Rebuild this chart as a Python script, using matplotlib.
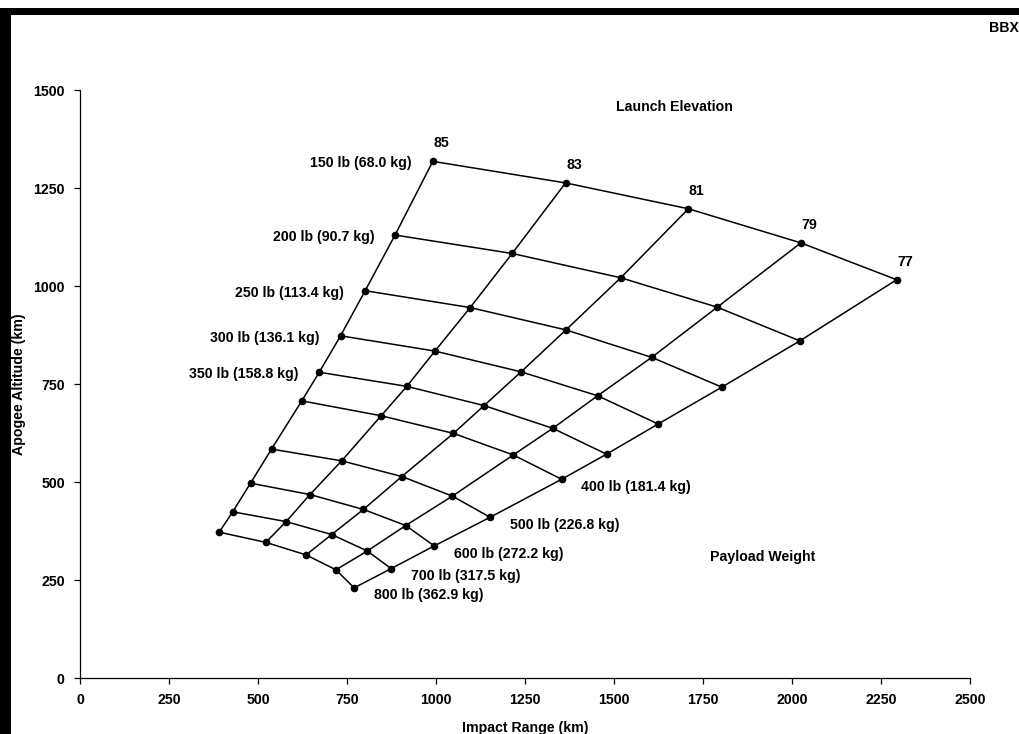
#!/usr/bin/env python
# -*- coding: utf-8 -*-

import numpy as np
import matplotlib
matplotlib.use('Agg')
import matplotlib.pyplot as plt
from matplotlib.patches import Rectangle

plt.rcParams['font.family'] = ['Liberation Sans', 'DejaVu Sans']
plt.rcParams['font.weight'] = 'bold'

# Elevaciones de lanzamiento (columnas de la grilla)
elevaciones = ['85', '83', '81', '79', '77']

# Pesos de carga (filas de la grilla)
pesos = ['150 lb (68.0 kg)', '200 lb (90.7 kg)', '250 lb (113.4 kg)',
         '300 lb (136.1 kg)', '350 lb (158.8 kg)', '400 lb (181.4 kg)',
         '500 lb (226.8 kg)', '600 lb (272.2 kg)', '700 lb (317.5 kg)',
         '800 lb (362.9 kg)']

# Alcance de impacto (km), una fila por peso, una columna por elevacion
alcance = [
  [991, 1364, 1709, 2025, 2294],
  [885, 1214, 1519, 1790, 2022],
  [801, 1096, 1365, 1606, 1803],
  [732, 997, 1239, 1454, 1624],
  [672, 918, 1135, 1328, 1479],
  [623, 846, 1049, 1217, 1353],
  [538, 735, 904, 1046, 1152],
  [479, 646, 796, 915, 995],
  [429, 579, 707, 807, 874],
  [391, 522, 635, 719, 770],
]

# Altitud de apogeo (km)
apogeo = [
  [1318, 1263, 1197, 1110, 1016],
  [1130, 1083, 1021, 946, 860],
  [988, 945, 888, 818, 742],
  [873, 834, 781, 720, 648],
  [780, 744, 695, 637, 571],
  [707, 669, 624, 569, 507],
  [584, 554, 514, 464, 410],
  [497, 468, 430, 389, 337],
  [424, 399, 366, 324, 279],
  [372, 346, 314, 276, 230],
]

x = np.array(alcance)
y = np.array(apogeo)

fs = 10.2

fig = plt.figure(figsize=(10.19, 7.34), dpi=100)
ax = fig.add_axes([80/1019., 56/734., 890/1019., 588/734.])

# Curvas de peso de carga
for i in range(len(pesos)):
  ax.plot(x[i], y[i], color='k', linewidth=1.1)

# Curvas de elevacion
for j in range(len(elevaciones)):
  ax.plot(x[:, j], y[:, j], color='k', linewidth=1.1)

ax.plot(x.flatten(), y.flatten(), 'o', color='k', markersize=4.5, linestyle='none')

# Etiquetas de elevacion arriba de la primera fila
for j in range(len(elevaciones)):
  ax.annotate(elevaciones[j], (x[0, j], y[0, j]), xytext=(6, 13),
              textcoords='offset points', ha='center', va='center',
              fontsize=fs, fontweight='bold')

# Etiquetas de peso: las primeras a la izquierda, las ultimas a la derecha
for i in range(len(pesos)):
  if i < 5:
    ax.annotate(pesos[i], (x[i, 0], y[i, 0]), xytext=(-15, -1.5),
                textcoords='offset points', ha='right', va='center',
                fontsize=fs, fontweight='bold')
  else:
    ax.annotate(pesos[i], (x[i, 4], y[i, 4]), xytext=(14, -5.5),
                textcoords='offset points', ha='left', va='center',
                fontsize=fs, fontweight='bold')

ax.text(1671, 1457, 'Launch Elevation', ha='center', va='center',
        fontsize=fs, fontweight='bold')
ax.text(1917, 309, 'Payload Weight', ha='center', va='center',
        fontsize=fs, fontweight='bold')

ax.set_xlim(0, 2500)
ax.set_ylim(0, 1500)
ax.set_xticks(range(0, 2501, 250))
ax.set_yticks(range(0, 1501, 250))
ax.spines['top'].set_visible(False)
ax.spines['right'].set_visible(False)
ax.spines['left'].set_linewidth(0.9)
ax.spines['bottom'].set_linewidth(0.9)
ax.tick_params(direction='out', length=4, width=0.9, labelsize=fs, pad=7)
for lab in ax.get_xticklabels() + ax.get_yticklabels():
  lab.set_fontweight('bold')

ax.set_xlabel('Impact Range (km)', fontsize=fs, fontweight='bold', labelpad=10)
ax.set_ylabel('Apogee Altitude (km)', fontsize=fs, fontweight='bold', labelpad=5)

# Bordes negros del escaneo y texto recortado arriba a la derecha
fig.patches.append(Rectangle((0, 0), 11/1019., 726/734., transform=fig.transFigure,
                             facecolor='k', edgecolor='none'))
fig.patches.append(Rectangle((0, 719/734.), 1.0, 7/734., transform=fig.transFigure,
                             facecolor='k', edgecolor='none'))
fig.text(989/1019., 1 - 28/734., 'BBX', ha='left', va='center',
         fontsize=fs, fontweight='bold')

fig.savefig('out.png', dpi=100)
